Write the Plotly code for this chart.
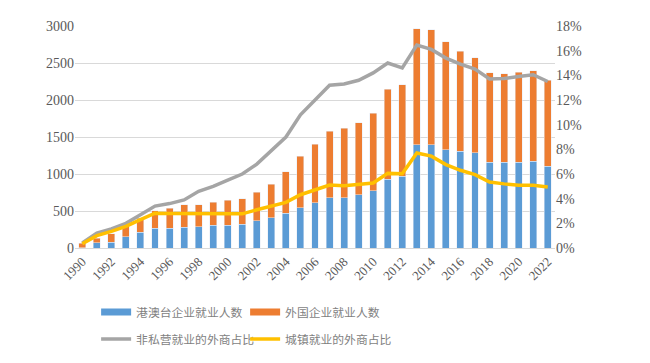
import plotly.graph_objects as go

years = list(range(1990, 2023))
hmt = [4, 70, 80, 152, 211, 270, 266, 278, 285, 306, 308, 322, 365, 406, 472, 545, 610, 677, 677, 720, 772, 932, 968, 1396, 1394, 1330, 1306, 1286, 1157, 1157, 1160, 1172, 1103]
total = [66, 135, 190, 285, 400, 505, 540, 585, 585, 616, 643, 666, 756, 863, 1031, 1238, 1400, 1578, 1621, 1695, 1820, 2148, 2207, 2960, 2950, 2790, 2657, 2572, 2370, 2355, 2378, 2392, 2270]
foreign = [t - h for t, h in zip(total, hmt)]
share_nonprivate = [0.4, 1.2, 1.55, 2.0, 2.7, 3.4, 3.6, 3.9, 4.6, 5.0, 5.5, 6.0, 6.8, 7.9, 9.0, 10.8, 12.0, 13.2, 13.3, 13.6, 14.2, 15.0, 14.6, 16.45, 16.1, 15.4, 14.9, 14.5, 13.7, 13.75, 13.9, 14.05, 13.5]
share_urban = [0.35, 1.0, 1.35, 1.75, 2.3, 2.82, 2.8, 2.8, 2.75, 2.75, 2.75, 2.77, 3.1, 3.4, 3.7, 4.32, 4.73, 5.1, 5.05, 5.13, 5.27, 6.05, 6.02, 7.7, 7.45, 6.76, 6.3, 5.95, 5.35, 5.2, 5.08, 5.08, 4.95]
tick_years = list(range(1990, 2023, 2))

names = ["港澳台企业就业人数", "外国企业就业人数", "非私营就业的外商占比", "城镇就业的外商占比"]
colors = ["#5B9BD5", "#ED7D31", "#A5A5A5", "#FFC000"]

fig = go.Figure()
fig.add_trace(go.Bar(x=years, y=hmt, name=names[0], marker_color=colors[0], showlegend=False))
fig.add_trace(go.Bar(x=years, y=foreign, name=names[1], marker_color=colors[1], showlegend=False))
# legend keys for the bars drawn as wide flat swatches
for nm, c in zip(names[:2], colors[:2]):
    fig.add_trace(go.Scatter(x=[None], y=[None], name=nm, mode="lines",
                             line=dict(color=c, width=7), legend="legend", hoverinfo="skip"))
fig.add_trace(go.Scatter(x=years, y=[v / 100 for v in share_nonprivate], name=names[2], mode="lines",
                         line=dict(color=colors[2], width=3.5), yaxis="y2", legend="legend2"))
fig.add_trace(go.Scatter(x=years, y=[v / 100 for v in share_urban], name=names[3], mode="lines",
                         line=dict(color=colors[3], width=3.5), yaxis="y2", legend="legend2"))

tickfont = dict(family="Liberation Serif", size=14, color="#595959")
legfont = dict(family="Noto Sans CJK SC", size=11.8, color="#7F7F7F")

# page body has an 8px default margin, so the figure is offset by (8, 8)
fig.update_layout(
    width=650, height=363,
    margin=dict(l=67, r=103, t=18, b=123, autoexpand=False),
    paper_bgcolor="white", plot_bgcolor="white",
    barmode="stack", bargap=0.52,
    xaxis=dict(range=[1989.5, 2022.5], tickmode="array", tickvals=tick_years,
               ticktext=[str(y) for y in tick_years], tickangle=-45, automargin=False,
               tickfont=dict(family="Liberation Serif", size=13, color="#595959"),
               showgrid=False, showline=True, linecolor="#D9D9D9", ticks=""),
    yaxis=dict(range=[0, 3000], dtick=500, tickfont=tickfont, gridcolor="#D9D9D9",
               zeroline=False, ticks="", automargin=False),
    yaxis2=dict(range=[0, 0.18], dtick=0.02, tickformat=".0%", overlaying="y", side="right",
                tickfont=tickfont, showgrid=False, zeroline=False, automargin=False),
    legend=dict(orientation="h", x=0.044, y=0.1625, yref="container", xanchor="left", yanchor="middle",
                font=legfont, entrywidth=104, traceorder="normal", bgcolor="rgba(0,0,0,0)"),
    legend2=dict(orientation="h", x=0.044, y=0.0882, yref="container", xanchor="left", yanchor="middle",
                 font=legfont, entrywidth=104, traceorder="normal", bgcolor="rgba(0,0,0,0)"),
)

fig.write_html("out.html")
